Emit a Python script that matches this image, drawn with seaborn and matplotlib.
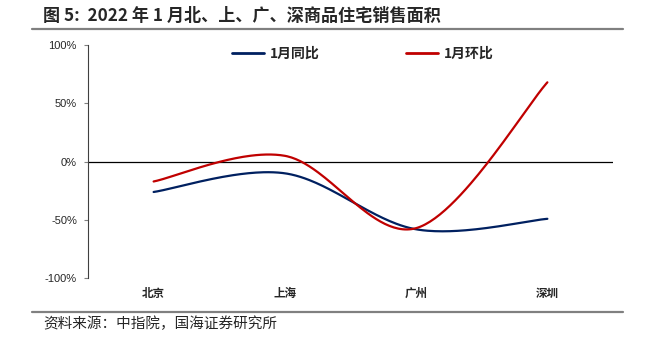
import numpy as np
import matplotlib
matplotlib.use("Agg")
import matplotlib.pyplot as plt
from matplotlib.lines import Line2D
from matplotlib.ticker import FuncFormatter
import seaborn as sns
import pandas as pd

# Data
cities = ["北京", "上海", "广州", "深圳"]
yoy = [-26, -10, -58, -49]      # 1月同比 (%)
mom = [-17, 5, -57, 68]         # 1月环比 (%)
series_names = ["1月同比", "1月环比"]
colors = ["#002060", "#C00000"]
y_ticks = [-100, -50, 0, 50, 100]

sns.set_theme(style="white")
plt.rcParams["font.family"] = ["Noto Sans CJK SC", "DejaVu Sans"]
plt.rcParams["axes.unicode_minus"] = False


def smooth(xs, ys, n=60):
    """Cubic Bezier smoothing through the points (Catmull-Rom style)."""
    xs = np.asarray(xs, float)
    ys = np.asarray(ys, float)
    px = np.concatenate([[xs[0]], xs, [xs[-1]]])
    py = np.concatenate([[ys[0]], ys, [ys[-1]]])
    outx, outy = [], []
    t = np.linspace(0, 1, n)
    for i in range(1, len(px) - 2):
        p0 = np.array([px[i], py[i]])
        p3 = np.array([px[i + 1], py[i + 1]])
        c1 = p0 + (np.array([px[i + 1], py[i + 1]]) - np.array([px[i - 1], py[i - 1]])) / 6
        c2 = p3 - (np.array([px[i + 2], py[i + 2]]) - np.array([px[i], py[i]])) / 6
        b = ((1 - t) ** 3)[:, None] * p0 + (3 * (1 - t) ** 2 * t)[:, None] * c1 \
            + (3 * (1 - t) * t ** 2)[:, None] * c2 + (t ** 3)[:, None] * p3
        outx.append(b[:, 0] if i == 1 else b[1:, 0])
        outy.append(b[:, 1] if i == 1 else b[1:, 1])
    return np.concatenate(outx), np.concatenate(outy)


frames = []
xpos = np.arange(len(cities))
for name, vals in zip(series_names, [yoy, mom]):
    sx, sy = smooth(xpos, vals)
    frames.append(pd.DataFrame({"x": sx, "y": sy, "series": name}))
df = pd.concat(frames, ignore_index=True)

fig = plt.figure(figsize=(6.45, 3.42), dpi=100)
ax = fig.add_axes([88 / 645, 1 - 278.3 / 342, (613 - 88) / 645, (278.3 - 45) / 342])

sns.lineplot(data=df, x="x", y="y", hue="series", palette=colors, sort=False,
             linewidth=1.6, ax=ax, legend=False, estimator=None)

ax.axhline(0, color="#000000", linewidth=0.9, zorder=1)

ax.set_xlim(-0.5, len(cities) - 0.5)
ax.set_ylim(-100, 100)
ax.set_yticks(y_ticks)
ax.yaxis.set_major_formatter(FuncFormatter(lambda v, p: f"{int(v)}%"))
ax.set_xticks(xpos)
ax.set_xticklabels(cities, fontsize=8.3, fontweight="bold")
ax.tick_params(axis="x", length=0, pad=6)
ax.tick_params(axis="y", left=True, length=3, width=0.8, color="#808080", labelsize=8, pad=5)
for lbl in ax.get_yticklabels():
    lbl.set_family(["Liberation Sans", "DejaVu Sans"])
ax.set_xlabel("")
ax.set_ylabel("")
for side in ["top", "right", "bottom"]:
    ax.spines[side].set_visible(False)
ax.spines["left"].set_color("#404040")
ax.spines["left"].set_linewidth(0.8)

handles = [Line2D([0], [0], color=c, linewidth=2) for c in colors]
leg = ax.legend(handles, series_names, loc="upper center", ncol=2, frameon=False,
                bbox_to_anchor=(0.523, 1.045), columnspacing=6.25, handlelength=2.3,
                handletextpad=0.4, prop={"size": 10, "weight": "bold"})

fig.text(43 / 645, 1 - 16 / 342, "图 5:  2022 年 1 月北、上、广、深商品住宅销售面积",
         fontsize=12.3, fontweight="bold", va="center", ha="left")
fig.text(43 / 645, 1 - 324 / 342, "资料来源：中指院，国海证券研究所",
         fontsize=10.5, va="center", ha="left")

for yy in [29, 312]:
    fig.add_artist(Line2D([32 / 645, 623 / 645], [1 - yy / 342, 1 - yy / 342],
                          color="#808080", linewidth=1.6, transform=fig.transFigure))

fig.savefig("out.png", dpi=100)
